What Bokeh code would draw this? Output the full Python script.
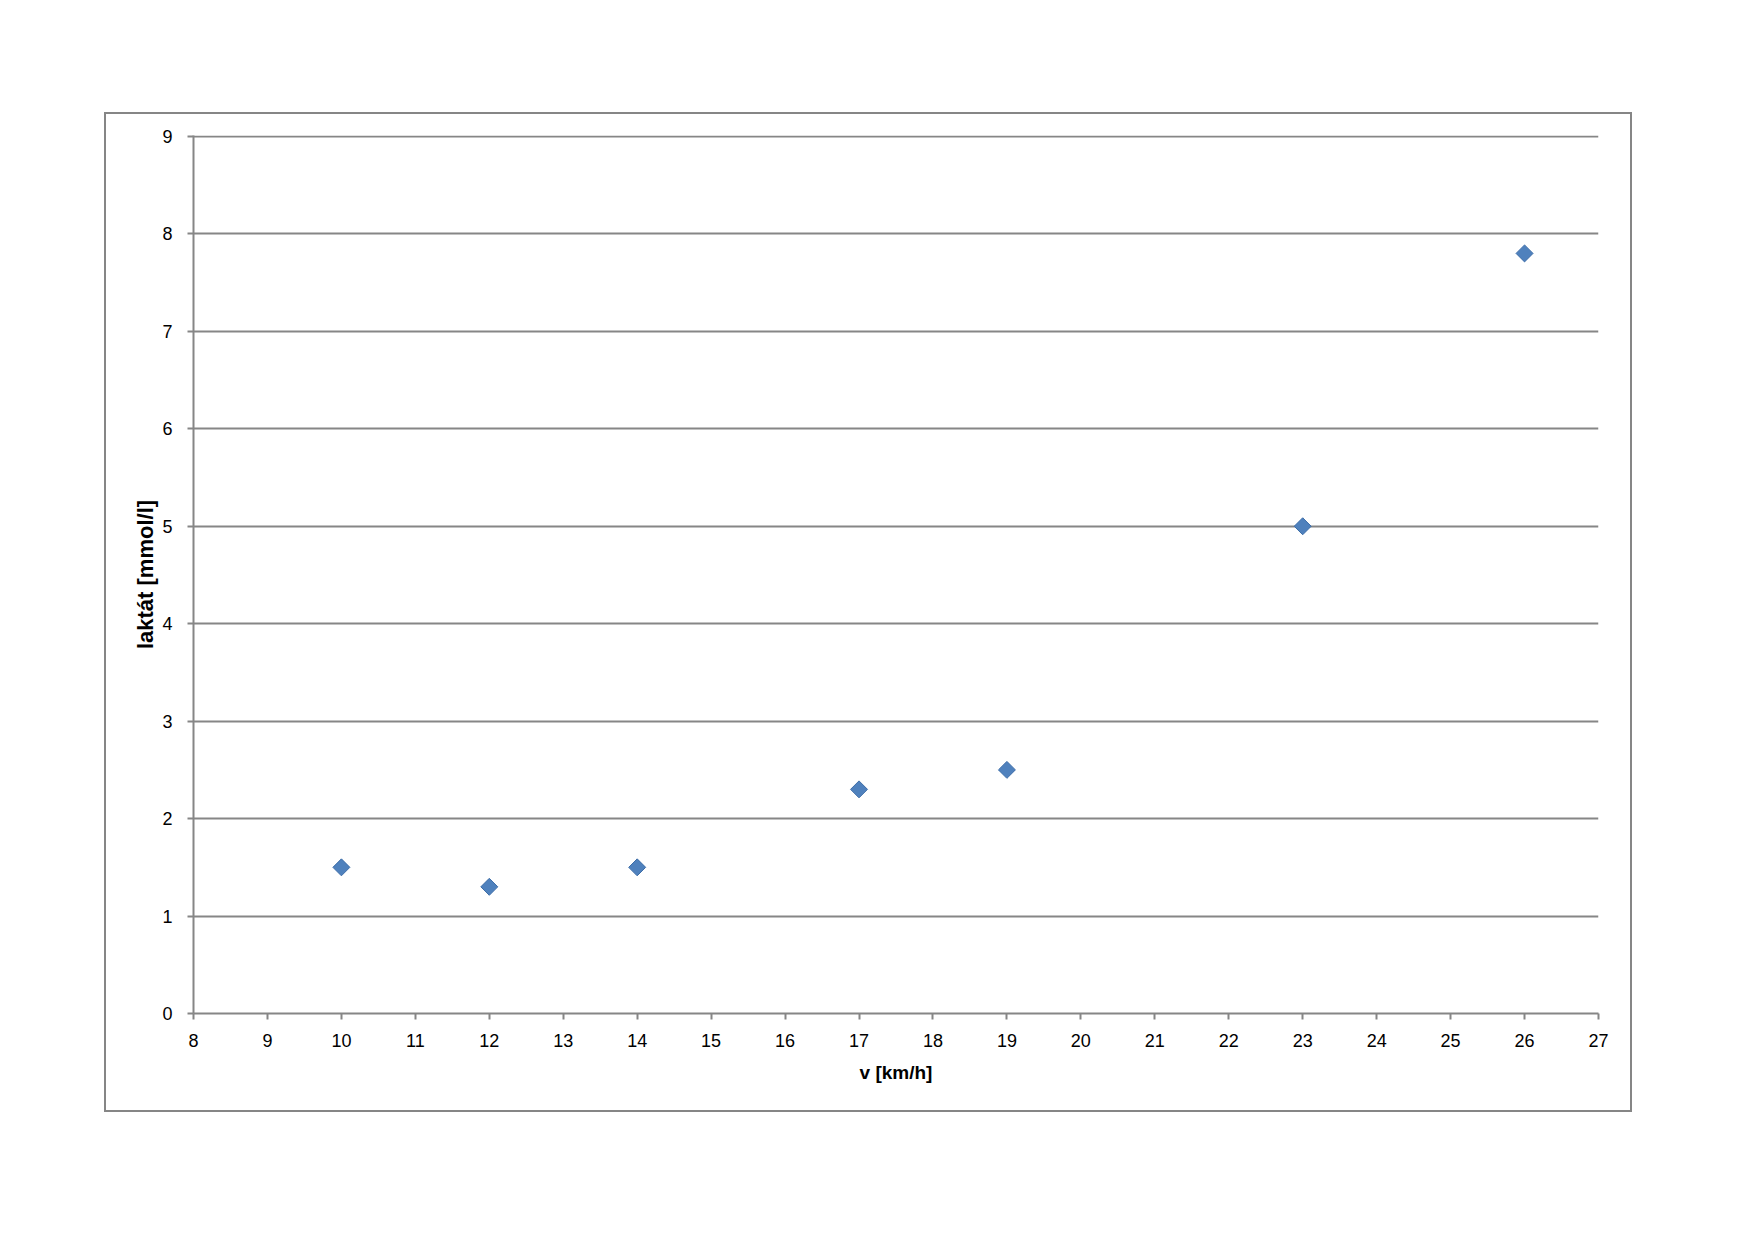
import math
from bokeh.plotting import figure
from bokeh.models import ColumnDataSource, FixedTicker, Range1d
from bokeh.embed import file_html
from bokeh.resources import INLINE

speed_kmh = [10, 12, 14, 17, 19, 23, 26]
lactate = [1.5, 1.3, 1.5, 2.3, 2.5, 5.0, 7.8]
x_ticks = list(range(8, 28))
y_ticks = list(range(0, 10))

GRAY = "#868686"
FONT = "Liberation Sans"

p = figure(width=1528, height=1000, output_backend="svg", toolbar_location=None,
           x_range=Range1d(8, 27), y_range=Range1d(0, 9.01),
           min_border_left=87, min_border_right=36, min_border_top=21, min_border_bottom=101,
           margin=(112, 0, 0, 104),
           styles={"border": "2px solid " + GRAY})
p.outline_line_color = None
p.background_fill_color = "white"
p.border_fill_color = "white"

src = ColumnDataSource(dict(x=speed_kmh, y=lactate))
p.scatter("x", "y", source=src, marker="square", angle=math.pi / 4, size=12,
          fill_color="#4F81BD", line_color="#3D6DA8", line_width=1)

for ax in (p.xaxis, p.yaxis):
    ax.axis_line_color = GRAY
    ax.axis_line_width = 2
    ax.major_tick_line_color = GRAY
    ax.major_tick_line_width = 2
    ax.major_tick_in = 0
    ax.major_tick_out = 6
    ax.minor_tick_line_color = None
    ax.major_label_text_font = FONT
    ax.major_label_text_font_size = "18px"
    ax.major_label_text_color = "black"
    ax.axis_label_text_font = FONT
    ax.axis_label_text_font_style = "bold"
    ax.axis_label_text_color = "black"

p.xaxis.axis_label_text_font_size = "19px"
p.yaxis.axis_label_text_font_size = "22px"
p.xaxis.ticker = FixedTicker(ticks=x_ticks)
p.yaxis.ticker = FixedTicker(ticks=y_ticks)
p.xaxis.axis_label = "v [km/h]"
p.yaxis.axis_label = "laktát [mmol/l]"
p.xaxis.major_label_standoff = 14
p.yaxis.major_label_standoff = 15
p.xaxis.axis_label_standoff = 12
p.yaxis.axis_label_standoff = 1

p.xgrid.grid_line_color = None
p.ygrid.grid_line_color = GRAY
p.ygrid.grid_line_width = 2
p.ygrid.ticker = FixedTicker(ticks=y_ticks)

open("out.html", "w").write(file_html(p, INLINE))
